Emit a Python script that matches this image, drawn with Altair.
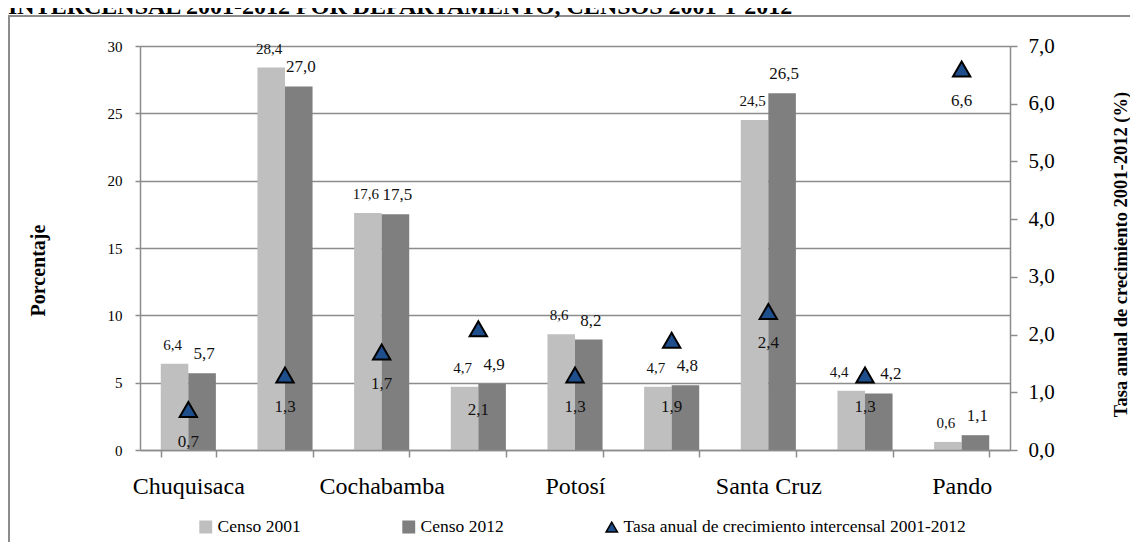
import altair as alt
import pandas as pd

# ---------------- data ----------------
departamentos = ["Chuquisaca", "La Paz", "Cochabamba", "Oruro", "Potosí",
                 "Tarija", "Santa Cruz", "Beni", "Pando"]
censo_2001 = [6.4, 28.4, 17.6, 4.7, 8.6, 4.7, 24.5, 4.4, 0.6]
censo_2012 = [5.7, 27.0, 17.5, 4.9, 8.2, 4.8, 26.5, 4.2, 1.1]
tasa = [0.7, 1.3, 1.7, 2.1, 1.3, 1.9, 2.4, 1.3, 6.6]
series = ["Censo 2001", "Censo 2012",
          "Tasa anual de crecimiento intercensal 2001-2012"]
left_ticks = [0, 5, 10, 15, 20, 25, 30]
right_ticks = [0, 1, 2, 3, 4, 5, 6, 7]
title_text = "INTERCENSAL 2001-2012 POR DEPARTAMENTO, CENSOS 2001 Y 2012"
y_left_title = "Porcentaje"
y_right_title = "Tasa anual de crecimiento  2001-2012 (%)"

# label nudges (style only, in pixels)
tasa_label_dy = [32, 32, 32, 81, 32, 67, 32, 32, 32]
label_dx_2001 = [-2, -2, -2, -2, -2, -2, -2, -12, -2]
label_dx_2012 = [2, 2, 2, 2, 2, 2, 2, 12, 2]

FONT = "Liberation Serif"
GRID = "#8c8c8c"

def fmt(v):
    return f"{v:.1f}".replace(".", ",")

bars_df = pd.DataFrame(
    [{"dep": d, "serie": series[0], "value": v, "label": fmt(v), "dx": dx}
     for d, v, dx in zip(departamentos, censo_2001, label_dx_2001)]
    + [{"dep": d, "serie": series[1], "value": v, "label": fmt(v), "dx": dx}
       for d, v, dx in zip(departamentos, censo_2012, label_dx_2012)]
)
tasa_df = pd.DataFrame({
    "dep": departamentos,
    "tasa": tasa,
    "label": [fmt(v) for v in tasa],
    "serie": [series[2]] * len(tasa),
    "dy": tasa_label_dy,
})

hidden = departamentos[1::2]
hidden_js = "[" + ",".join("'" + h + "'" for h in hidden) + "]"

x_axis = alt.Axis(
    title=None, labelAngle=0, tickBand="extent", tickSize=7,
    labelExpr=f"indexof({hidden_js}, datum.value) >= 0 ? '' : datum.label",
    labelFont=FONT, labelFontSize=24, labelColor="#000", labelPadding=17,
    domainColor=GRID, domainWidth=1.5, tickColor=GRID, tickWidth=1.5, zindex=1,
)
x_enc = alt.X("dep:N", scale=alt.Scale(domain=departamentos, paddingInner=0.43, paddingOuter=0.215),
              axis=x_axis)
xoff = alt.XOffset("serie:N", scale=alt.Scale(domain=series[:2], paddingInner=0, paddingOuter=0))

y_left = alt.Y(
    "value:Q", scale=alt.Scale(domain=[0, 30], nice=False),
    axis=alt.Axis(
        values=left_ticks, title=y_left_title, grid=True, gridColor=GRID, gridWidth=1.5,
        domainColor=GRID, domainWidth=1.5, tickColor=GRID, tickWidth=1.5, tickSize=5,
        labelFont=FONT, labelFontSize=15, labelColor="#000", labelPadding=13,
        titleFont=FONT, titleFontSize=20, titleFontWeight="bold", titleColor="#000",
        titleX=-102, titleY=224, titleAngle=270, titleAlign="center", titleBaseline="middle",
    ),
)
y_right = alt.Y(
    "tasa:Q", scale=alt.Scale(domain=[0, 7], nice=False),
    axis=alt.Axis(
        orient="right", values=right_ticks, grid=False,
        labelExpr="replace(format(datum.value, '.1f'), '.', ',')",
        domainColor=GRID, domainWidth=1.5, tickColor=GRID, tickWidth=1.5, tickSize=7,
        labelFont=FONT, labelFontSize=21, labelColor="#000", labelPadding=11,
        title=y_right_title, titleFont=FONT, titleFontSize=18.5, titleFontWeight="bold",
        titleColor="#000", titleX=110, titleY=208, titleAngle=270,
        titleAlign="center", titleBaseline="middle",
    ),
)

legend = alt.Legend(
    title=None, orient="none", legendX=57, legendY=472, direction="horizontal",
    columns=3, columnPadding=99, labelFont=FONT, labelFontSize=17.5, labelColor="#000",
    labelLimit=600, symbolSize=130, symbolStrokeWidth=1.5, labelOffset=3, symbolOpacity=1,
)
color_scale = alt.Scale(domain=series, range=["#BFBFBF", "#7F7F7F", "#1F4E8C"])
shape_scale = alt.Scale(domain=series, range=["square", "square", "triangle-up"])
stroke_scale = alt.Scale(domain=series, range=["#BFBFBF", "#7F7F7F", "#000000"])

bars = alt.Chart(bars_df).mark_bar().encode(
    x=x_enc, xOffset=xoff, y=y_left,
    color=alt.Color("serie:N", scale=color_scale, legend=legend),
)

bar_labels = []
for s, size in ((series[0], 15), (series[1], 17)):
    dxs = label_dx_2001 if s == series[0] else label_dx_2012
    for dx in sorted(set(dxs)):
        bar_labels.append(
            alt.Chart(bars_df)
            .transform_filter((alt.datum.serie == s) & (alt.datum.dx == dx))
            .mark_text(dy=-19, dx=dx, font=FONT, fontSize=size, color="#111")
            .encode(x=x_enc, xOffset=xoff, y=y_left, text="label:N")
        )

left = alt.layer(bars, *bar_labels)

points = alt.Chart(tasa_df).mark_point(filled=True, size=300, strokeWidth=2, opacity=1).encode(
    x=x_enc, y=y_right,
    color=alt.Color("serie:N", scale=color_scale, legend=legend),
    shape=alt.Shape("serie:N", scale=shape_scale, legend=legend),
    stroke=alt.Stroke("serie:N", scale=stroke_scale, legend=legend),
)
tasa_labels = []
for d in sorted(set(tasa_label_dy)):
    tasa_labels.append(
        alt.Chart(tasa_df).transform_filter(alt.datum.dy == d).mark_text(
            dy=d, font=FONT, fontSize=17, color="#111"
        ).encode(x=x_enc, y=y_right, text="label:N")
    )
right = alt.layer(points, *tasa_labels)

one = pd.DataFrame({"t": [title_text]})
border = alt.Chart(one).mark_rect(fill="transparent", stroke=GRID, strokeWidth=2).encode(
    x=alt.value(-131), x2=alt.value(1010), y=alt.value(-30), y2=alt.value(560)
)
title = alt.Chart(one).mark_text(
    align="left", baseline="alphabetic", font=FONT, fontSize=24, fontWeight="bold", color="#000"
).encode(x=alt.value(-132), y=alt.value(-32), text="t:N")

chart = alt.layer(border, title, left, right).resolve_scale(y="independent").properties(
    width=870, height=404,
    padding={"left": 132, "top": 38, "right": 120, "bottom": 92},
    autosize=alt.AutoSizeParams(type="none"),
).configure_view(strokeWidth=0).configure(font=FONT).configure_axis(
    labelFont=FONT, titleFont=FONT
).configure_legend(labelFont=FONT).configure_text(font=FONT)

chart.save("out.html", embed_options={"renderer": "svg", "actions": False})
